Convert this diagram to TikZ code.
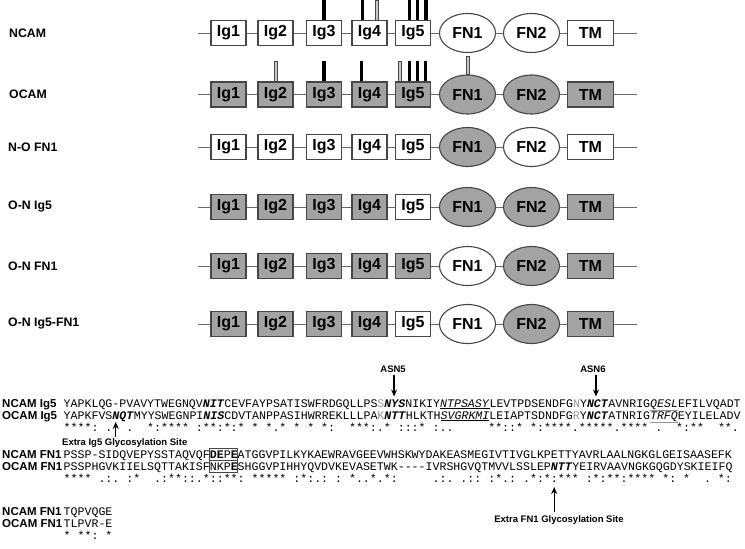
\documentclass[tikz,border=0pt]{standalone}
\usepackage{fontspec}
\setmainfont{Liberation Sans}
\setmonofont{Liberation Mono}
\usepackage{tikz}
\usetikzlibrary{shapes.geometric}
\usetikzlibrary{arrows.meta}
\usetikzlibrary{calc}
\definecolor{colorDom}{RGB}{163,163,163}
\definecolor{colorEdge}{RGB}{70,70,70}
\definecolor{colorBB}{RGB}{105,105,105}
\definecolor{colorGly}{RGB}{200,200,200}
\definecolor{colorSeqGray}{RGB}{150,150,150}
\newcommand{\cw}{6.96}
\newcommand{\gly}[1]{\textbf{\textit{#1}}}
\newcommand{\sgr}[1]{\textcolor{colorSeqGray}{#1}}
\newcommand{\sul}[1]{\underline{\textit{#1}}}
\newcommand{\sgul}[1]{\rlap{\textcolor{colorSeqGray}{\underline{\phantom{\textit{#1}}}}}\textit{#1}}
\tikzset{
   every path/.style={>={Stealth[length=7pt,width=6pt]}},
   ig/.style={rectangle,draw=colorEdge,line width=1.1pt,minimum width=35pt,minimum height=25pt,inner sep=0pt,font=\fontsize{16}{16}\bfseries\selectfont},
   tm/.style={ig,minimum width=46pt},
   fn/.style={ellipse,draw=colorEdge,line width=1.1pt,minimum width=56pt,minimum height=39pt,inner sep=0pt,font=\fontsize{16}{16}\bfseries\selectfont},
   ws/.style={fill=white},
   gs/.style={fill=colorDom},
   bb/.style={-,color=colorBB,line width=0.9pt},
   glyb/.style={-,black,line width=3.5pt},
   glyg/.style={draw=colorEdge,fill=colorGly,line width=0.6pt},
   rowlab/.style={anchor=west,inner sep=0pt,font=\fontsize{12.3}{13}\bfseries\selectfont},
   seqlab/.style={anchor=base west,inner sep=0pt,font=\fontsize{11.5}{12}\bfseries\selectfont},
   seq/.style={anchor=base west,inner sep=0pt,font=\fontsize{11.6}{12}\ttfamily\frenchspacing},
   sitelab/.style={inner sep=0pt,font=\fontsize{9.5}{10}\bfseries\selectfont},
   glyarr/.style={->,black,line width=1.3pt},
   sitebox/.style={draw=colorEdge,line width=0.8pt},
}

\begin{document}
\begin{tikzpicture}[x=1pt, y=-1pt]
  \useasboundingbox (0, 0) rectangle (745, 549);

  % NCAM
  \node[rowlab] (labN) at (9, 33)   {NCAM};
  \coordinate (nL) at (198, 33);
  \coordinate (nR) at (637, 33);
  \node[ig,ws] (nIg1) at (228.5, 33) {Ig1};
  \node[ig,ws] (nIg2) at (275.5, 33) {Ig2};
  \node[ig,ws] (nIg3) at (324,   33) {Ig3};
  \node[ig,ws] (nIg4) at (369.5, 33) {Ig4};
  \node[ig,ws] (nIg5) at (413,   33) {Ig5};
  \node[fn,ws] (nFN1) at (467.5, 33) {FN1};
  \node[fn,ws] (nFN2) at (531.5, 33) {FN2};
  \node[tm,ws] (nTM)  at (590.5, 33) {TM};
  \draw[bb] (nL) -- (nIg1) -- (nIg2) -- (nIg3) -- (nIg4) -- (nIg5) -- (nFN1) -- (nFN2) -- (nTM) -- (nR);

  % OCAM
  \node[rowlab] (labO) at (9, 94.5) {OCAM};
  \coordinate (oL) at (198, 94.5);
  \coordinate (oR) at (637, 94.5);
  \node[ig,gs] (oIg1) at (228.5, 94.5) {Ig1};
  \node[ig,gs] (oIg2) at (275.5, 94.5) {Ig2};
  \node[ig,gs] (oIg3) at (324,   94.5) {Ig3};
  \node[ig,gs] (oIg4) at (369.5, 94.5) {Ig4};
  \node[ig,gs] (oIg5) at (413,   94.5) {Ig5};
  \node[fn,gs] (oFN1) at (467.5, 94.5) {FN1};
  \node[fn,gs] (oFN2) at (531.5, 94.5) {FN2};
  \node[tm,gs] (oTM)  at (590.5, 94.5) {TM};
  \draw[bb] (oL) -- (oIg1) -- (oIg2) -- (oIg3) -- (oIg4) -- (oIg5) -- (oFN1) -- (oFN2) -- (oTM) -- (oR);

  % N-O FN1
  \node[rowlab] (labA) at (8, 147) {N-O FN1};
  \coordinate (aL) at (198, 147);
  \coordinate (aR) at (637, 147);
  \node[ig,ws] (aIg1) at (228.5, 147) {Ig1};
  \node[ig,ws] (aIg2) at (275.5, 147) {Ig2};
  \node[ig,ws] (aIg3) at (324,   147) {Ig3};
  \node[ig,ws] (aIg4) at (369.5, 147) {Ig4};
  \node[ig,ws] (aIg5) at (413,   147) {Ig5};
  \node[fn,gs] (aFN1) at (467.5, 147) {FN1};
  \node[fn,ws] (aFN2) at (531.5, 147) {FN2};
  \node[tm,ws] (aTM)  at (590.5, 147) {TM};
  \draw[bb] (aL) -- (aIg1) -- (aIg2) -- (aIg3) -- (aIg4) -- (aIg5) -- (aFN1) -- (aFN2) -- (aTM) -- (aR);

  % O-N Ig5
  \node[rowlab] (labB) at (8, 207) {O-N Ig5};
  \coordinate (bL) at (198, 207);
  \coordinate (bR) at (637, 207);
  \node[ig,gs] (bIg1) at (228.5, 207) {Ig1};
  \node[ig,gs] (bIg2) at (275.5, 207) {Ig2};
  \node[ig,gs] (bIg3) at (324,   207) {Ig3};
  \node[ig,gs] (bIg4) at (369.5, 207) {Ig4};
  \node[ig,ws] (bIg5) at (413,   207) {Ig5};
  \node[fn,gs] (bFN1) at (467.5, 207) {FN1};
  \node[fn,gs] (bFN2) at (531.5, 207) {FN2};
  \node[tm,gs] (bTM)  at (590.5, 207) {TM};
  \draw[bb] (bL) -- (bIg1) -- (bIg2) -- (bIg3) -- (bIg4) -- (bIg5) -- (bFN1) -- (bFN2) -- (bTM) -- (bR);

  % O-N FN1
  \node[rowlab] (labC) at (8, 266) {O-N FN1};
  \coordinate (cL) at (198, 266);
  \coordinate (cR) at (637, 266);
  \node[ig,gs] (cIg1) at (228.5, 266) {Ig1};
  \node[ig,gs] (cIg2) at (275.5, 266) {Ig2};
  \node[ig,gs] (cIg3) at (324,   266) {Ig3};
  \node[ig,gs] (cIg4) at (369.5, 266) {Ig4};
  \node[ig,gs] (cIg5) at (413,   266) {Ig5};
  \node[fn,ws] (cFN1) at (467.5, 266) {FN1};
  \node[fn,gs] (cFN2) at (531.5, 266) {FN2};
  \node[tm,gs] (cTM)  at (590.5, 266) {TM};
  \draw[bb] (cL) -- (cIg1) -- (cIg2) -- (cIg3) -- (cIg4) -- (cIg5) -- (cFN1) -- (cFN2) -- (cTM) -- (cR);

  % O-N Ig5-FN1
  \node[rowlab] (labD) at (8, 324) {O-N Ig5-FN1};
  \coordinate (dL) at (198, 324);
  \coordinate (dR) at (637, 324);
  \node[ig,gs] (dIg1) at (228.5, 324) {Ig1};
  \node[ig,gs] (dIg2) at (275.5, 324) {Ig2};
  \node[ig,gs] (dIg3) at (324,   324) {Ig3};
  \node[ig,gs] (dIg4) at (369.5, 324) {Ig4};
  \node[ig,ws] (dIg5) at (413,   324) {Ig5};
  \node[fn,ws] (dFN1) at (467.5, 324) {FN1};
  \node[fn,gs] (dFN2) at (531.5, 324) {FN2};
  \node[tm,gs] (dTM)  at (590.5, 324) {TM};
  \draw[bb] (dL) -- (dIg1) -- (dIg2) -- (dIg3) -- (dIg4) -- (dIg5) -- (dFN1) -- (dFN2) -- (dTM) -- (dR);

  % glycosylation sites
  \draw[glyb] (nIg3.north) -- ++(0,-20);
  \draw[glyb] ($(nIg4.north)+(-6.8,0)$) -- ++(0,-20);
  \draw[glyg] ($(nIg4.north)+(5.7,0)$) rectangle ++(3,-20);
  \draw[glyb] ($(nIg5.north)+(-3.7,0)$) -- ++(0,-20);
  \draw[glyb] ($(nIg5.north)+(4.3,0)$) -- ++(0,-20);
  \draw[glyb] ($(nIg5.north)+(13,0)$) -- ++(0,-20);

  \draw[glyg] ($(oIg2.north)+(-1.5,0)$) rectangle ++(3,-20);
  \draw[glyb] (oIg3.north) -- ++(0,-20);
  \draw[glyb] ($(oIg4.north)+(-7.8,0)$) -- ++(0,-20);
  \draw[glyg] ($(oIg5.north)+(-14.5,0)$) rectangle ++(3,-20);
  \draw[glyb] ($(oIg5.north)+(-3.7,0)$) -- ++(0,-20);
  \draw[glyb] ($(oIg5.north)+(4.3,0)$) -- ++(0,-20);
  \draw[glyb] ($(oIg5.north)+(12.7,0)$) -- ++(0,-20);
  \draw[glyg] ($(oFN1.north)+(-1.5,0)$) rectangle ++(3,-18.5);

  % Ig5 alignment
  \node[seqlab] (lIg5n) at (2, 407)   {NCAM Ig5};
  \node[seqlab] (lIg5o) at (2, 419)   {OCAM Ig5};
  \node[seq] (sIg5n) at (63.5, 407) {YAPKLQG-PVAVYTWEGNQV\gly{NIT}CEVFAYPSATISWFRDGQLLPS\sgr{S}\gly{NYS}NIKIY\sul{NTPSASY}LEVTPDSENDFG\sgr{N}Y\gly{NCT}AVNRIG\sgul{QESL}EFILVQADT};
  \node[seq] (sIg5o) at (63.5, 419) {YAPKFVS\gly{NQT}MYYSWEGNPI\gly{NIS}CDVTANPPASIHWRREKLLLPA\sgr{K}\gly{NTT}HLKTH\sul{SVGRKMI}LEIAPTSDNDFG\sgr{R}Y\gly{NCT}ATNRIG\sgul{TRFQ}EYILELADV};
  \node[seq] (cIg5)  at (63.5, 431) {****:~.~~.~~*:****~:**:*:*~*~*.*~*~*~*:~~***:.*~:::*~:..~~~~~**::*~*:****.*****.****~.~~*:**~~**.};

  \coordinate (asn5tip) at ($(sIg5n.base west)+(47.5*\cw,-10.5)$);
  \coordinate (asn6tip) at ($(sIg5n.base west)+(76.5*\cw,-10.5)$);
  \coordinate (xIg5tip) at ($(sIg5o.base west)+(7.5*\cw,3)$);
  \node[sitelab] (asn5) at ($(asn5tip)+(-1,-27.5)$) {ASN5};
  \node[sitelab] (asn6) at ($(asn6tip)+(-3,-27.5)$) {ASN6};
  \node[sitelab,anchor=west] (xIg5) at (62, 443) {Extra Ig5 Glycosylation Site};
  \draw[glyarr,shorten <=2pt] (asn5.south -| asn5tip) -- (asn5tip);
  \draw[glyarr,shorten <=2pt] (asn6.south -| asn6tip) -- (asn6tip);
  \draw[glyarr,shorten <=1pt] (xIg5.north -| xIg5tip) -- (xIg5tip);

  % FN1 alignment
  \node[seqlab] (lFNn) at (2, 458)   {NCAM FN1};
  \node[seqlab] (lFNo) at (2, 470)   {OCAM FN1};
  \node[seq] (sFNn) at (63.5, 458) {PSSP-SIDQVEPYSSTAQVQF\textbf{DE}P\textbf{E}ATGGVPILKYKAEWRAVGEEVWHSKWYDAKEASMEGIVTIVGLKPETTYAVRLAALNGKGLGEISAASEFK};
  \node[seq] (sFNo) at (63.5, 470) {PSSPHGVKIIELSQTTAKISFNKP\textbf{E}SHGGVPIHHYQVDVKEVASETWK----IVRSHGVQTMVVLSSLEP\gly{NTT}YEIRVAAVNGKGQGDYSKIEIFQ};
  \node[seq] (cFN)  at (63.5, 482) {****~.:.~:*~~.:**::.*::**:~*****~:*:.:~:~*..*.*:~~~~~.:.~.::~:*.:~.*:*:***~:*:**:****~*:~*~~.~*:};

  \draw[sitebox] ($(sFNn.base west)+(21*\cw,-9.5)$) rectangle ($(sFNn.base west)+(25*\cw,2.5)$);
  \draw[sitebox] ($(sFNo.base west)+(21*\cw,-9.5)$) rectangle ($(sFNo.base west)+(25*\cw,2)$);

  \coordinate (xFNtip) at ($(cFN.base west)+(70.5*\cw,5)$);
  \node[sitelab] (xFN) at (559, 520) {Extra FN1 Glycosylation Site};
  \draw[glyarr,shorten <=3pt] (xFN.north -| xFNtip) -- (xFNtip);

  \node[seqlab] (lEndn) at (2, 515)   {NCAM FN1};
  \node[seqlab] (lEndo) at (2, 527)   {OCAM FN1};
  \node[seq] (sEndn) at (63.5, 515) {TQPVQGE};
  \node[seq] (sEndo) at (63.5, 527) {TLPVR-E};
  \node[seq] (cEnd)  at (63.5, 539) {*~**:~*};
\end{tikzpicture}
\end{document}
